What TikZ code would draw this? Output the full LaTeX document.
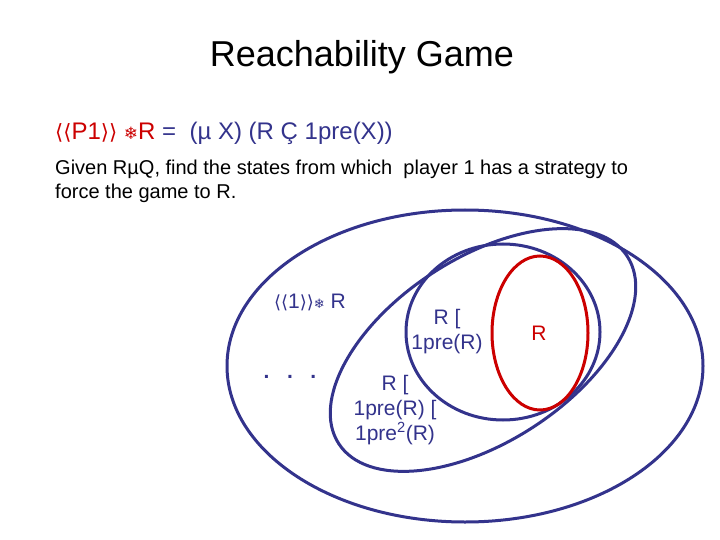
\documentclass[tikz,border=0pt]{standalone}
\usepackage{fontspec}
\setmainfont{Liberation Sans}
\newfontfamily\dvs{DejaVu Sans}
\definecolor{navy}{RGB}{51,51,140}
\definecolor{rred}{RGB}{204,0,0}
\begin{document}
\begin{tikzpicture}[x=1pt,y=-1pt,
  ell/.style={draw=navy,line width=3pt},
  lbl/.style={text=navy,font=\fontsize{21}{25}\selectfont,align=center,inner sep=0pt}]
\useasboundingbox[fill=white] (0,0) rectangle (720,540);
\node[font=\fontsize{36}{40}\selectfont,inner sep=0pt] (title) at (362,57) {Reachability Game};
\node[anchor=west,inner sep=0pt,font=\fontsize{24}{28}\selectfont] (formula) at (55,133)
 {\textcolor{rred}{{\dvs\fontsize{21}{24}\selectfont ⟨⟨}P1{\dvs\fontsize{21}{24}\selectfont ⟩⟩} {\dvs\fontsize{17}{18}\selectfont ❄}R}\textcolor{navy}{ \ = \ (µ X) (R Ç 1pre(X))}};
\node[anchor=north west,inner sep=0pt,align=left,font=\fontsize{20}{24}\selectfont] (given) at (55,160)
 {Given RµQ, find the states from which \ player 1 has a strategy to\\force the game to R.};
\draw[ell] (465,366) ellipse[x radius=238,y radius=156];
\draw[ell,rotate around={33:(483,350)}] (483,350) ellipse[x radius=172,y radius=92];
\draw[ell] (503,332) ellipse[x radius=97,y radius=88];
\draw[draw=rred,line width=3pt] (540,333) ellipse[x radius=48,y radius=77];
\node[lbl] (win) at (310,302) {{\dvs\fontsize{18}{20}\selectfont ⟨⟨}1{\dvs\fontsize{18}{20}\selectfont ⟩⟩\fontsize{13}{14}\selectfont ❄} R};
\node[lbl] (r1) at (447,332) {R [\\1pre(R)};
\node[lbl] (r2) at (395,410) {R [\\1pre(R) [\\1pre\textsuperscript{2}(R)};
\node[lbl,text=rred] (r0) at (539,333) {R};
\node[lbl] (dots) at (290,377) {\textbf{.}\ \ \ \textbf{.}\ \ \ \textbf{.}};
\end{tikzpicture}
\end{document}
